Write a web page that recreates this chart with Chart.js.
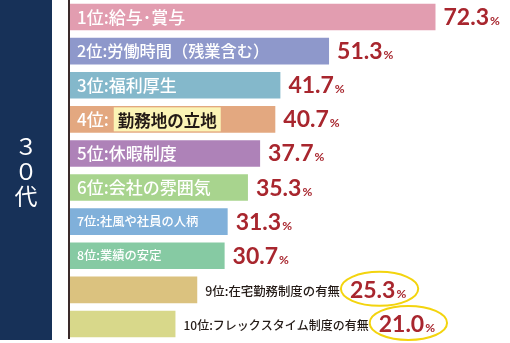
<!DOCTYPE html>
<html>
<head>
<meta charset="utf-8">
<script src="https://cdn.jsdelivr.net/npm/chart.js@4"></script>
<style>
  html, body { margin: 0; padding: 0; background: #fff; }
  #wrap { width: 510px; height: 343px; position: relative; }
</style>
</head>
<body>
<div id="wrap"><canvas id="chartRanking"></canvas></div>
<script>
// datos
const ageGroup = '３０代'
const ranks = ['1位', '2位', '3位', '4位', '5位', '6位', '7位', '8位', '9位', '10位']
const categories = ['給与･賞与', '労働時間（残業含む）', '福利厚生', '勤務地の立地', '休暇制度',
    '会社の雰囲気', '社風や社員の人柄', '業績の安定', '在宅勤務制度の有無', 'フレックスタイム制度の有無']
const values = [72.3, 51.3, 41.7, 40.7, 37.7, 35.3, 31.3, 30.7, 25.3, 21.0]
const barColors = ['#e29db0', '#8e98cb', '#84b8cb', '#e3a880', '#ae82b8',
    '#a8d48e', '#80b0da', '#86caa3', '#dbc27f', '#d8d88a']

const JP = '"Noto Sans CJK JP", "Noto Sans", sans-serif'
const NUM = 'Lato, "Noto Sans", sans-serif'
const labelSizes = [17, 16.2, 17, 17, 17, 17, 12.3, 12.3, 12.4, 12.0]

const canvas = document.getElementById('chartRanking')
const context = canvas.getContext('2d')

const fondoPlugin = {
    id: 'fondo',
    beforeDraw(chart) {
        const ctx = chart.ctx
        ctx.save()
        ctx.fillStyle = '#173158'
        ctx.fillRect(0, 0, 52, 340)
        ctx.fillStyle = '#fff'
        ctx.font = `400 23px ${JP}`
        ctx.textAlign = 'center'
        ctx.textBaseline = 'middle'
        const chars = Array.from(ageGroup)
        chars.forEach((c, i) => ctx.fillText(c, 26, 146 + i * 25))
        ctx.restore()
    },
    afterDatasetsDraw(chart) {
        const ctx = chart.ctx
        ctx.save()
        // eje
        ctx.strokeStyle = '#3a2a2a'
        ctx.lineWidth = 2
        ctx.beginPath()
        ctx.moveTo(69, 0)
        ctx.lineTo(69, 339)
        ctx.stroke()

        const bars = chart.getDatasetMeta(0).data
        bars.forEach((bar, i) => {
            const y = bar.y
            const x0 = bar.base + 7
            let xValor = bar.x + 7

            ctx.textBaseline = 'middle'
            ctx.textAlign = 'left'
            if (i < 8) {
                ctx.font = `500 ${labelSizes[i]}px ${JP}`
                ctx.fillStyle = '#fff'
                const pref = ranks[i] + ':'
                if (i === 3) {
                    ctx.fillText(pref, x0, y)
                    const w = ctx.measureText(pref).width
                    ctx.font = `700 16.5px ${JP}`
                    const tw = ctx.measureText(categories[i]).width
                    const bx = x0 + w + 5
                    ctx.fillStyle = '#fbf4b6'
                    ctx.fillRect(bx, y - 12, tw + 8, 24)
                    ctx.fillStyle = '#231a16'
                    ctx.fillText(categories[i], bx + 4, y + 1)
                } else {
                    ctx.fillText(pref + categories[i], x0, y)
                }
            } else {
                ctx.font = `500 ${labelSizes[i]}px ${JP}`
                ctx.fillStyle = '#231a16'
                const txt = ranks[i] + ':' + categories[i]
                const lx = bar.x + 7
                ctx.fillText(txt, lx, y + 1)
                xValor = lx + ctx.measureText(txt).width + 10
            }

            // valor
            const num = values[i].toFixed(1)
            ctx.font = `700 23px ${NUM}`
            const nw = ctx.measureText(num).width
            ctx.font = `700 12px ${NUM}`
            const pw = ctx.measureText('%').width
            if (i >= 8) {
                const cx = xValor + (nw + pw) / 2
                ctx.strokeStyle = '#f3d40e'
                ctx.lineWidth = 2
                ctx.beginPath()
                ctx.ellipse(cx + 2, y - 1, (nw + pw) / 2 + 11, 17, 0, 0, Math.PI * 2)
                ctx.stroke()
            }
            ctx.fillStyle = '#a8262e'
            ctx.textBaseline = 'alphabetic'
            ctx.font = `700 23px ${NUM}`
            ctx.fillText(num, xValor, y + 8)
            ctx.font = `700 12px ${NUM}`
            ctx.fillText('%', xValor + nw + 1, y + 8)
        })
        ctx.restore()
    }
}

const chartRanking = new Chart(context, {
    type: 'bar',
    data: {
        labels: categories,
        datasets: [
            {
                data: values,
                backgroundColor: barColors,
                borderColor: 'rgba(255,255,255,0.55)',
                borderWidth: 1,
                borderSkipped: 'start',
                barPercentage: 0.84,
                categoryPercentage: 1
            }
        ]
    },
    options: {
        indexAxis: 'y',
        responsive: true,
        maintainAspectRatio: false,
        animation: false,
        layout: { padding: { left: 70, right: 0, top: 0, bottom: 2 } },
        plugins: { legend: { display: false }, tooltip: { enabled: false } },
        scales: {
            x: { display: false, min: 0, max: 86.8 },
            y: { display: false }
        }
    },
    plugins: [fondoPlugin]
})
</script>
</body>
</html>
